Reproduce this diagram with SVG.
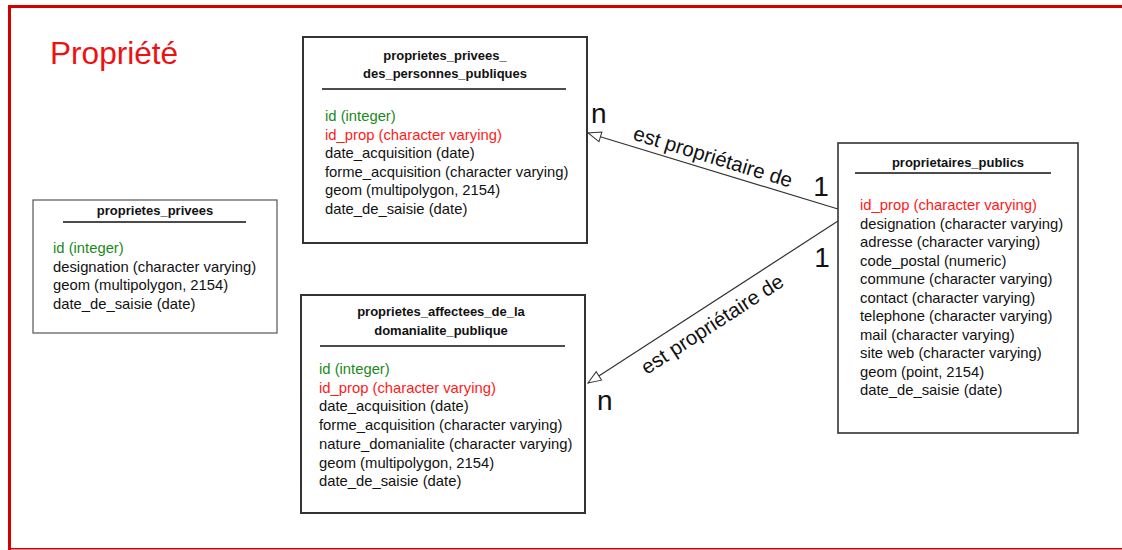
<svg xmlns="http://www.w3.org/2000/svg" width="1122" height="550" viewBox="0 0 1122 550">
<style>
text{font-family:"Liberation Sans",Arial,sans-serif;}
.box{fill:#fff;stroke:#333;stroke-width:1.6;}
.title{font-size:13px;font-weight:bold;fill:#111;text-anchor:middle;}
.rule{stroke:#111;stroke-width:1.4;}
.f{font-size:14.8px;fill:#111;}
.pk{fill:#1a8a1a;}
.fk{fill:#ff1a1a;}
.conn{stroke:#333;stroke-width:1.2;fill:none;marker-end:url(#open);}
.lbl{font-size:20.5px;fill:#111;text-anchor:middle;}
.card{font-size:28px;fill:#111;}
</style>
<defs>
<marker id="open" markerUnits="userSpaceOnUse" markerWidth="16" markerHeight="12" refX="13" refY="5" orient="auto" viewBox="-1 -1 16 12">
<path d="M0,0 L13,5 L0,10 Z" fill="#fff" stroke="#333" stroke-width="1"/>
</marker>
</defs>
<rect width="1122" height="550" fill="#fff"/>
<g id="frame">
<rect x="8" y="5" width="1114" height="3" fill="#d40000"/>
<rect x="8" y="5" width="3" height="545" fill="#d40000"/>
<rect x="8" y="548" width="1114" height="1.5" fill="#d40000"/>
<text x="50" y="64" font-size="31.6" fill="#ee1111">Propriété</text>
</g>
<g id="connectors">
<line class="conn" x1="838" y1="209" x2="588" y2="133"/>
<line class="conn" x1="838" y1="221" x2="588" y2="383"/>
<text class="lbl" transform="translate(711,163.5) rotate(17)">est propriétaire de</text>
<text class="lbl" transform="translate(716,330) rotate(-33)">est propriétaire de</text>
<text class="card" x="591" y="123">n</text>
<text class="card" x="821" y="196" text-anchor="middle">1</text>
<text class="card" x="822" y="267" text-anchor="middle">1</text>
<text class="card" x="597" y="410">n</text>
</g>
<g id="proprietes_privees">
<rect class="box" x="33" y="200" width="244" height="133" style="stroke:#555;stroke-width:1.2"/>
<text class="title" x="155" y="214.5">proprietes_privees</text>
<line class="rule" x1="63" y1="222" x2="246" y2="222"/>
<text class="f pk" x="53" y="253">id (integer)</text>
<text class="f" x="53" y="271.5">designation (character varying)</text>
<text class="f" x="53" y="290">geom (multipolygon, 2154)</text>
<text class="f" x="53" y="308.5">date_de_saisie (date)</text>
</g>
<g id="proprietes_privees_des_personnes_publiques">
<rect class="box" x="303" y="37" width="284" height="206" style="stroke-width:2"/>
<text class="title" x="445" y="59.5">proprietes_privees_</text>
<text class="title" x="445" y="78">des_personnes_publiques</text>
<line class="rule" x1="322" y1="89" x2="566" y2="89"/>
<text class="f pk" x="325" y="121">id (integer)</text>
<text class="f fk" x="325" y="139.5">id_prop (character varying)</text>
<text class="f" x="325" y="158">date_acquisition (date)</text>
<text class="f" x="325" y="176.5">forme_acquisition (character varying)</text>
<text class="f" x="325" y="195">geom (multipolygon, 2154)</text>
<text class="f" x="325" y="213.5">date_de_saisie (date)</text>
</g>
<g id="proprietes_affectees_de_la_domanialite_publique">
<rect class="box" x="301" y="295" width="284" height="218" style="stroke-width:2"/>
<text class="title" x="441" y="315.5">proprietes_affectees_de_la</text>
<text class="title" x="441" y="334.5">domanialite_publique</text>
<line class="rule" x1="320" y1="346" x2="565" y2="346"/>
<text class="f pk" x="319" y="374">id (integer)</text>
<text class="f fk" x="319" y="392.7">id_prop (character varying)</text>
<text class="f" x="319" y="411.4">date_acquisition (date)</text>
<text class="f" x="319" y="430">forme_acquisition (character varying)</text>
<text class="f" x="319" y="448.8">nature_domanialite (character varying)</text>
<text class="f" x="319" y="467.5">geom (multipolygon, 2154)</text>
<text class="f" x="319" y="486">date_de_saisie (date)</text>
</g>
<g id="proprietaires_publics">
<rect class="box" x="838" y="143" width="240" height="290"/>
<text class="title" x="958" y="166.5">proprietaires_publics</text>
<line class="rule" x1="855" y1="173" x2="1051" y2="173"/>
<text class="f fk" x="860" y="210">id_prop (character varying)</text>
<text class="f" x="860" y="228.5">designation (character varying)</text>
<text class="f" x="860" y="247">adresse (character varying)</text>
<text class="f" x="860" y="265.5">code_postal (numeric)</text>
<text class="f" x="860" y="284">commune (character varying)</text>
<text class="f" x="860" y="302.5">contact (character varying)</text>
<text class="f" x="860" y="321">telephone (character varying)</text>
<text class="f" x="860" y="339.5">mail (character varying)</text>
<text class="f" x="860" y="358">site web (character varying)</text>
<text class="f" x="860" y="376.5">geom (point, 2154)</text>
<text class="f" x="860" y="395">date_de_saisie (date)</text>
</g>
</svg>
